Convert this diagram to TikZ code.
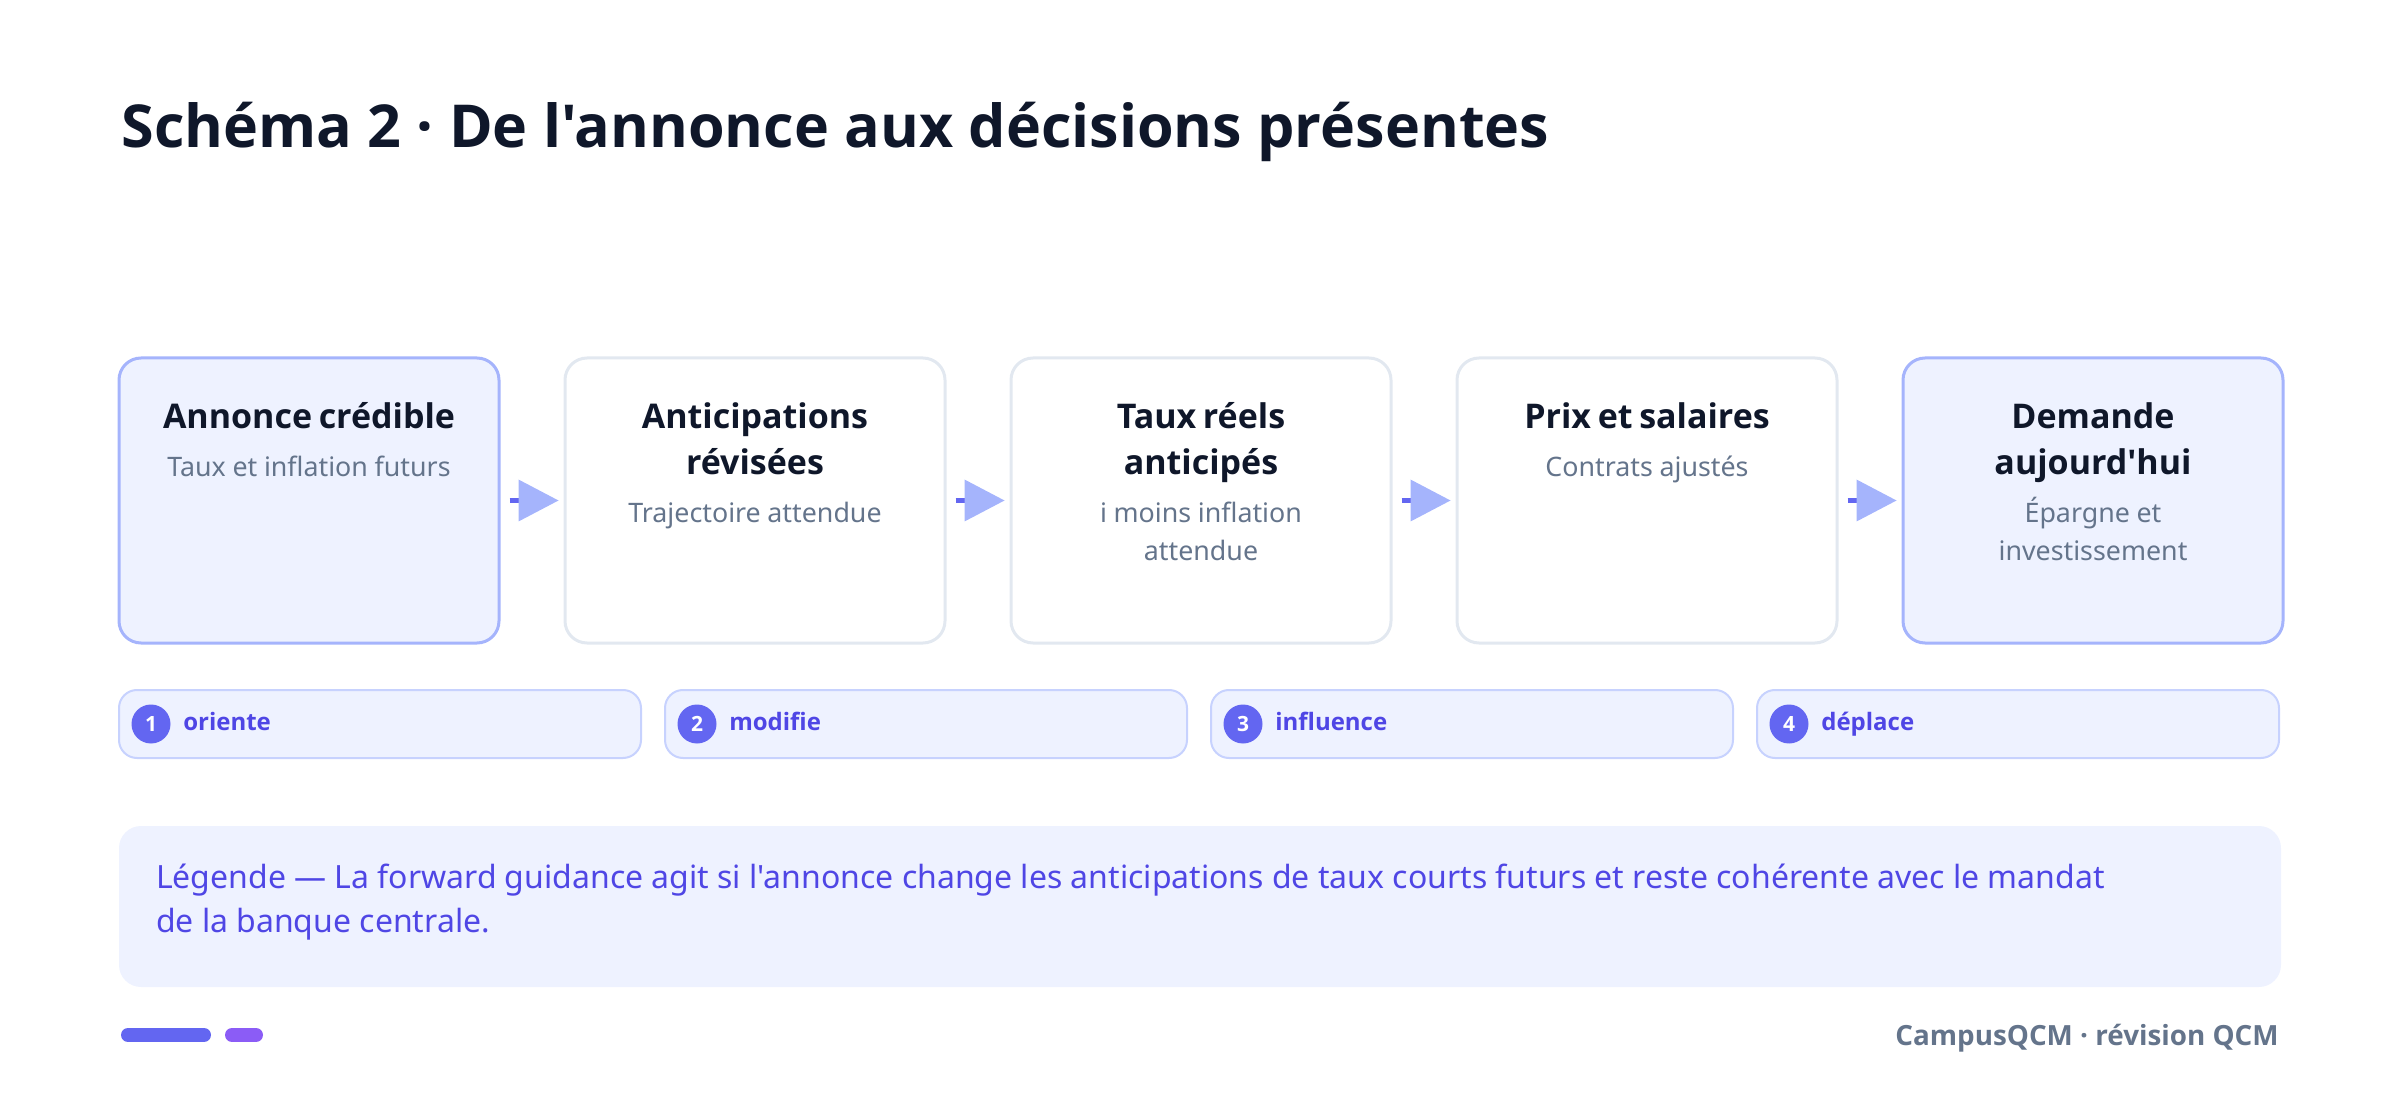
\documentclass[tikz,border=0pt]{standalone}
\usepackage{fontspec}
\setmainfont{Noto Sans}[Ligatures=TeXOff]
\IfFontExistsTF{NotoSans-Bold.ttf}
  {\newfontfamily\boldsans{NotoSans-Bold.ttf}[Ligatures=TeXOff]}
  {\IfFontExistsTF{OpenSans-Bold.ttf}
    {\newfontfamily\boldsans{OpenSans-Bold.ttf}[Ligatures=TeXOff]}
    {\newfontfamily\boldsans{DejaVuSans-Bold.ttf}[Ligatures=TeXOff]}}
\IfFontExistsTF{NotoSans-ExtraBold.ttf}
  {\newfontfamily\heavysans{NotoSans-ExtraBold.ttf}[Ligatures=TeXOff]}
  {\let\heavysans\boldsans}
\usetikzlibrary{arrows.meta, positioning}
\setlength{\parindent}{0pt}

\definecolor{ink}{HTML}{0F172A}
\definecolor{slate}{HTML}{64748B}
\definecolor{edge}{HTML}{E2E8F0}
\definecolor{paleindigo}{HTML}{EEF2FF}
\definecolor{softindigo}{HTML}{A5B4FC}
\definecolor{lineindigo}{HTML}{C7D2FE}
\definecolor{indigo}{HTML}{6366F1}
\definecolor{deepindigo}{HTML}{4F46E5}
\definecolor{violet}{HTML}{8B5CF6}

\newcommand{\stagelabel}[2]{\rule{0pt}{13pt}{\boldsans\fontsize{17}{23}\selectfont\color{ink}#1\par}%
  \vspace{5pt}{\fontsize{13.4}{19}\selectfont\color{slate}#2\par}}

\tikzset{
  stagebox/.style = {draw=edge, fill=white, line width=1.5pt, rounded corners=11pt,
    minimum width=190pt, minimum height=142.5pt, inner sep=0pt},
  keystage/.style = {stagebox, draw=softindigo, fill=paleindigo},
  stagetext/.style = {anchor=north, align=center, text width=180pt, inner sep=0pt},
  flow/.style = {line width=2.5pt, draw=indigo, shorten <=4.5pt, shorten >=2.5pt,
    -{Triangle[length=20pt, width=21pt, line width=0pt, color=softindigo]}},
  pill/.style = {draw=lineindigo, fill=paleindigo, line width=1pt, rounded corners=9pt,
    minimum width=261pt, minimum height=34pt, inner sep=0pt},
  badge/.style = {circle, fill=indigo, text=white, minimum size=19.5pt, inner sep=0pt,
    font=\boldsans\fontsize{10.5}{10.5}\selectfont},
  verb/.style = {anchor=base west, text=deepindigo, inner sep=0pt,
    font=\boldsans\fontsize{12}{14}\selectfont}
}

\begin{document}
\begin{tikzpicture}[x=0.5pt, y=-0.5pt]

  \useasboundingbox (0,0) rectangle (2400,1096);

  % Title
  \node[anchor=base west, inner sep=0pt, text=ink, font=\heavysans\fontsize{29.6}{36}\selectfont]
    (title) at (121,148) {Schéma 2 · De l'annonce aux décisions présentes};

  % Stages
  \node[keystage] (b1) at (309,500.5) {};
  \node[stagebox, right=31.5pt of b1] (b2) {};
  \node[stagebox, right=31.5pt of b2] (b3) {};
  \node[stagebox, right=31.5pt of b3] (b4) {};
  \node[keystage, right=31.5pt of b4] (b5) {};

  \node[stagetext] (t1) at ([yshift=-23pt]b1.north) {\stagelabel{Annonce crédible}{Taux et inflation futurs}};
  \node[stagetext] (t2) at ([yshift=-23pt]b2.north) {\stagelabel{Anticipations\\révisées}{Trajectoire attendue}};
  \node[stagetext] (t3) at ([yshift=-23pt]b3.north) {\stagelabel{Taux réels\\anticipés}{i moins inflation\\attendue}};
  \node[stagetext] (t4) at ([yshift=-23pt]b4.north) {\stagelabel{Prix et salaires}{Contrats ajustés}};
  \node[stagetext] (t5) at ([yshift=-23pt]b5.north) {\stagelabel{Demande\\aujourd'hui}{Épargne et\\investissement}};

  % Flow arrows
  \draw[flow] (b1) -- (b2);
  \draw[flow] (b2) -- (b3);
  \draw[flow] (b3) -- (b4);
  \draw[flow] (b4) -- (b5);

  % Steps
  \node[pill] (p1) at (380,724) {};
  \node[pill, right=11pt of p1] (p2) {};
  \node[pill, right=11pt of p2] (p3) {};
  \node[pill, right=11pt of p3] (p4) {};

  \node[badge] (n1) at ([xshift=16.5pt]p1.west) {1};
  \node[badge] (n2) at ([xshift=16.5pt]p2.west) {2};
  \node[badge] (n3) at ([xshift=16.5pt]p3.west) {3};
  \node[badge] (n4) at ([xshift=16.5pt]p4.west) {4};

  \node[verb] (v1) at ([xshift=6pt, yshift=-3pt]n1.east) {oriente};
  \node[verb] (v2) at ([xshift=6pt, yshift=-3pt]n2.east) {modifie};
  \node[verb] (v3) at ([xshift=6pt, yshift=-3pt]n3.east) {influence};
  \node[verb] (v4) at ([xshift=6pt, yshift=-3pt]n4.east) {déplace};

  % Legend
  \node[fill=paleindigo, rounded corners=11pt, minimum width=1081pt, minimum height=80.5pt, inner sep=0pt]
    (legend) at (1200,906.5) {};
  \node[anchor=north west, align=left, inner sep=0pt, text=deepindigo, font=\fontsize{16}{22}\selectfont]
    (legtext) at ([xshift=18.5pt, yshift=-18.5pt]legend.north west)
    {\rule{0pt}{12.5pt}Légende — La forward guidance agit si l'annonce change les anticipations de taux courts futurs et reste cohérente avec le mandat\\de la banque centrale.};

  % Footer
  \draw[line width=7pt, line cap=round, indigo] (128,1035) -- (204,1035);
  \draw[line width=7pt, line cap=round, violet] (232,1035) -- (256,1035);
  \node[anchor=base east, inner sep=0pt, text=slate, font=\boldsans\fontsize{13.9}{16}\selectfont]
    (brand) at (2279,1045) {CampusQCM · révision QCM};

\end{tikzpicture}
\end{document}
